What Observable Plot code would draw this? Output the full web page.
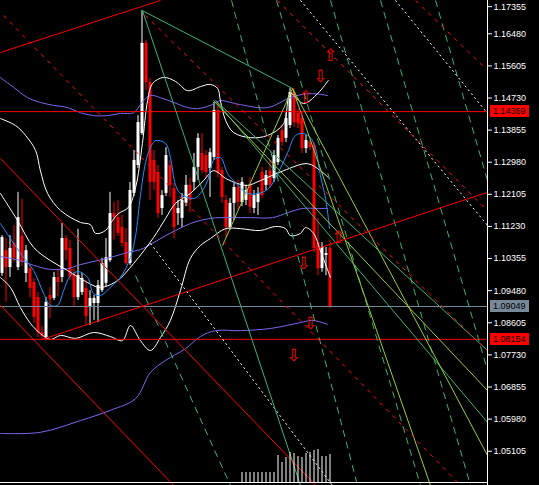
<!DOCTYPE html>
<html><head><meta charset="utf-8">
<script src="https://cdn.jsdelivr.net/npm/d3@7"></script>
<script src="https://cdn.jsdelivr.net/npm/@observablehq/plot@0.6"></script>
<style>
html,body{margin:0;padding:0;background:#000;}
#chart{position:relative;width:539px;height:485px;overflow:hidden;background:#000;}
#chart svg{position:absolute;left:0;top:0;}
</style></head><body><div id="chart"></div>
<script>
// ---- candle data (index = bar number) ----
const open = [1.0995,1.1057,1.1011,1.1077,1.1011,1.1096,1.0995,1.1008,1.0970,1.0929,
1.0834,1.0820,1.0935,1.0927,1.0984,1.0984,1.1090,1.1063,1.0995,1.0929,
1.0943,1.0954,1.0902,1.0913,1.0913,1.0948,1.0968,1.1030,1.1158,1.1147,
1.1120,1.1079,1.1022,1.1213,1.1289,1.1376,1.1622,1.1515,1.1303,1.1270,
1.1172,1.1213,1.1289,1.1226,1.1158,1.1145,1.1186,1.1235,1.1243,1.1284,
1.1322,1.1316,1.1281,1.1311,1.1439,1.1275,1.1194,1.1120,1.1186,1.1229,
1.1188,1.1194,1.1235,1.1172,1.1188,1.1270,1.1235,1.1275,1.1254,1.1297,
1.1384,1.1363,1.1398,1.1488,1.1431,1.1417,1.1335,1.1352,1.1344,1.1079,
1.1008,1.1044,1.1063];
const high = [1.1098,1.1090,1.1098,1.1126,1.1216,1.1197,1.1071,1.1017,1.0981,1.0943,
1.0850,1.0929,1.0957,1.0998,1.1006,1.1131,1.1098,1.1085,1.1008,1.1115,
1.0995,1.0976,1.0948,1.0935,1.0976,1.1036,1.1090,1.1216,1.1188,1.1194,
1.1153,1.1117,1.1243,1.1330,1.1425,1.1711,1.1630,1.1526,1.1330,1.1289,
1.1221,1.1338,1.1303,1.1240,1.1194,1.1213,1.1262,1.1254,1.1322,1.1376,
1.1376,1.1330,1.1335,1.1461,1.1461,1.1284,1.1207,1.1199,1.1240,1.1248,
1.1256,1.1235,1.1256,1.1221,1.1229,1.1284,1.1275,1.1303,1.1330,1.1371,
1.1398,1.1433,1.1499,1.1499,1.1444,1.1425,1.1371,1.1357,1.1352,1.1145,
1.1079,1.1066,1.1085];
const low = [1.0987,1.0916,1.0984,1.1025,1.1003,1.1014,1.0970,1.0929,1.0859,1.0820,
1.0815,1.0815,1.0872,1.0921,1.0932,1.0970,1.1030,1.0976,1.0902,1.0921,
1.0935,1.0853,1.0853,1.0867,1.0861,1.0943,1.0959,1.1025,1.1085,1.1096,
1.1066,1.1017,1.1017,1.1205,1.1281,1.1371,1.1493,1.1194,1.1221,1.1145,
1.1153,1.1205,1.1202,1.1090,1.1126,1.1120,1.1177,1.1161,1.1221,1.1248,
1.1267,1.1254,1.1202,1.1303,1.1256,1.1186,1.1093,1.1112,1.1139,1.1167,
1.1177,1.1180,1.1158,1.1158,1.1153,1.1199,1.1221,1.1226,1.1243,1.1289,
1.1341,1.1352,1.1390,1.1393,1.1390,1.1322,1.1322,1.1330,1.1052,1.0989,
1.0998,1.0989,1.0899];
const close = [1.1093,1.1011,1.1063,1.1036,1.1147,1.1025,1.1057,1.0954,1.0875,1.0834,
1.0823,1.0916,1.0924,1.0984,1.0970,1.1090,1.1057,1.0984,1.0929,1.0989,
1.0981,1.0878,1.0927,1.0927,1.0962,1.1022,1.1038,1.1158,1.1147,1.1104,
1.1077,1.1022,1.1221,1.1303,1.1406,1.1622,1.1515,1.1243,1.1243,1.1158,
1.1207,1.1316,1.1235,1.1120,1.1172,1.1194,1.1235,1.1194,1.1284,1.1363,
1.1275,1.1270,1.1324,1.1439,1.1267,1.1202,1.1120,1.1186,1.1229,1.1188,
1.1243,1.1221,1.1175,1.1207,1.1213,1.1207,1.1262,1.1235,1.1316,1.1363,
1.1352,1.1417,1.1488,1.1406,1.1403,1.1335,1.1357,1.1338,1.1063,1.1008,
1.1066,1.1049,1.09049];

// tick volume of the last bars (first bar index, values)
const volStart = 60;
const volume = [10,10,10,10,10,10,10,10,10,27,20,25,30,29,26,25,29,30,32,33,26,26,28];

// ---- indicator lines: [bar index, price] ----
const bbUpper = [[-0.4,1.1417],[3.4,1.1398],[5.9,1.1371],[8.4,1.1330],[9.6,1.1275],[11.4,1.1213],[14.6,1.1167],[19.6,1.1134],[22.1,1.1128],[23.4,1.1104],[25.9,1.1112],[27.6,1.1139],[29.1,1.1158],[31.6,1.1175],[33.4,1.1229],[35.1,1.1349],[36.4,1.1466],[37.6,1.1512],[40.4,1.1529],[43.4,1.1518],[46.4,1.1493],[49.6,1.1504],[52.1,1.1510],[53.9,1.1499],[54.6,1.1466],[55.9,1.1412],[57.9,1.1379],[62.1,1.1365],[66.4,1.1371],[70.4,1.1403],[72.1,1.1485],[75.4,1.1458],[78.9,1.1485],[81.6,1.1521]];
const bbMiddle = [[-0.4,1.1213],[3.9,1.1139],[7.9,1.1066],[12.1,1.1030],[16.4,1.1003],[20.4,1.0976],[24.6,1.0957],[28.9,1.0976],[32.9,1.1022],[37.9,1.1093],[40.9,1.1145],[43.4,1.1186],[47.1,1.1213],[50.4,1.1248],[52.9,1.1275],[55.9,1.1254],[58.9,1.1240],[61.4,1.1235],[64.6,1.1248],[70.4,1.1275],[76.4,1.1294],[79.6,1.1275],[81.6,1.1256]];
const bbLower = [[-0.4,1.0984],[2.1,1.0957],[4.6,1.0902],[7.1,1.0859],[9.6,1.0831],[12.1,1.0815],[14.6,1.0826],[18.4,1.0818],[22.9,1.0834],[27.1,1.0823],[30.1,1.0812],[32.1,1.0853],[34.6,1.0812],[37.1,1.0785],[39.6,1.0820],[42.1,1.0867],[44.6,1.0948],[47.1,1.1036],[49.6,1.1071],[52.1,1.1090],[55.9,1.1117],[59.6,1.1117],[64.6,1.1112],[68.4,1.1123],[70.9,1.1117],[72.1,1.1098],[74.6,1.1104],[75.9,1.1120],[77.9,1.1104],[79.6,1.1057],[82.1,1.0984]];
const maFast = [[-0.4,1.1131],[2.9,1.1077],[5.4,1.1038],[7.9,1.1003],[10.4,1.0940],[12.1,1.0908],[13.9,1.0908],[15.4,1.0948],[17.1,1.0989],[19.1,1.1000],[21.4,1.0984],[22.9,1.0940],[24.6,1.0935],[27.1,1.0957],[29.6,1.0984],[32.1,1.1038],[33.4,1.1098],[34.6,1.1207],[35.9,1.1297],[37.1,1.1338],[38.4,1.1357],[40.9,1.1349],[42.1,1.1311],[43.4,1.1235],[44.6,1.1213],[47.9,1.1199],[49.6,1.1213],[51.4,1.1248],[52.9,1.1303],[54.6,1.1311],[56.4,1.1267],[57.9,1.1248],[61.4,1.1213],[64.1,1.1213],[66.6,1.1226],[69.1,1.1270],[71.4,1.1324],[73.4,1.1371],[75.4,1.1376],[77.1,1.1365],[78.4,1.1335],[79.6,1.1262],[80.9,1.1199],[81.9,1.1117]];
const envUpper = [[-0.4,1.1529],[2.9,1.1502],[6.4,1.1474],[9.6,1.1461],[12.9,1.1453],[16.4,1.1447],[19.6,1.1433],[22.9,1.1425],[26.4,1.1425],[29.6,1.1431],[32.9,1.1433],[35.4,1.1466],[37.1,1.1480],[39.6,1.1474],[42.9,1.1461],[46.4,1.1447],[48.9,1.1444],[52.1,1.1453],[54.6,1.1466],[57.1,1.1461],[59.6,1.1455],[66.4,1.1447],[72.1,1.1474],[76.4,1.1485],[81.4,1.1480]];
const envMiddle = [[-0.4,1.1041],[4.6,1.1030],[7.9,1.1017],[12.1,1.1006],[16.4,1.1008],[19.6,1.1019],[23.9,1.1030],[27.9,1.1041],[31.4,1.1052],[34.6,1.1060],[37.6,1.1077],[40.9,1.1098],[43.4,1.1112],[47.1,1.1131],[52.1,1.1145],[57.1,1.1147],[62.1,1.1147],[67.6,1.1147],[71.6,1.1161],[75.1,1.1172],[79.1,1.1172],[81.4,1.1172]];
const envLower = [[-0.4,1.0559],[9.6,1.0562],[19.6,1.0594],[27.1,1.0622],[33.4,1.0654],[37.1,1.0725],[40.9,1.0758],[45.9,1.0790],[49.6,1.0823],[53.4,1.0839],[59.6,1.0839],[67.1,1.0845],[74.6,1.0861],[77.6,1.0867],[81.4,1.0856]];

// ---- horizontal levels ----
const resistance = 1.14359, support = 1.08154, bid = 1.09049;

// ---- drawn objects: [bar1, price1, bar2, price2] ----
const redSolid = [[-0.375,1.1597,39.625,1.1739],[10,1.0815,121.375,1.1216],[-0.375,1.1308,82.125,1.0376],[-0.375,1.0908,44.625,1.0398]];
const redDashed = [[0.375,1.1698,115.375,1.0409],[35.875,1.1698,121.375,1.0784],[68.875,1.1739,121.375,1.1166],[103.375,1.1739,121.375,1.1548]];
const greenSolid = [[35.125,1.1711,74.625,1.0417],[35.125,1.1711,72.625,1.1499],[53.375,1.1466,121.375,1.0589],[53.375,1.1466,121.375,1.0785]];
const yellowGreen = [[55.125,1.1071,72.625,1.1499],[52.875,1.1466,121.375,1.0676],[72.625,1.1499,121.375,1.0499],[72.625,1.1499,107.125,1.0417]];
const greenDashed = [[57.375,1.1739,88.875,1.0417],[68.625,1.1739,104.625,1.0417],[82.125,1.1739,117.125,1.0417],[94.625,1.1739,121.375,1.0731],[108.375,1.1739,121.375,1.1248],[33.375,1.0989,57.125,1.0417]];
const whiteDotted = [[37.125,1.1077,82.625,1.0417],[74.625,1.1739,121.375,1.1126],[98.375,1.1739,121.375,1.1431]];

// ---- signal arrows: [bar, price] ----
const arrowsUp = [[82.1,1.1589],[75.9,1.1474],[84.1,1.1093]];
const arrowsDown = [[79.6,1.1531],[74.6,1.1417],[75.4,1.1022],[77.1,1.0859],[72.9,1.0771]];

// price axis ticks
const priceTicks = [1.17355,1.16480,1.15605,1.14730,1.13855,1.12980,1.12105,1.11230,1.10355,1.09480,1.08605,1.07730,1.06855,1.05980,1.05105];

const candles = open.map((o,i)=>({i,o,h:high[i],l:low[i],c:close[i],up:close[i]>=o}));
const toLinks = arr => arr.map(([x1,y1,x2,y2])=>({x1,y1,x2,y2}));
const toPts = arr => arr.map(([x,y])=>({x,y}));
const xDomain = [-0.375, 121.375];
const yDomain = [1.04171, 1.17387];
const W = 539, H = 485;
const FONT = "'Liberation Sans', Arial, sans-serif";

const linkOpts = (stroke, dash) => ({x1:"x1",y1:"y1",x2:"x2",y2:"y2",stroke,strokeWidth:1,strokeDasharray:dash,clip:true});
const lineOpts = (stroke) => ({x:"x",y:"y",stroke,strokeWidth:1,curve:"catmull-rom",clip:true});
const axisOpts = {anchor:"right", tickSize:4, tickPadding:2, tickFormat:d=>d.toFixed(5)};
const arrowOpts = {x:"x", y:"y", fill:"#ff0000", fontSize:17, fontFamily:"DejaVu Sans"};

const plot = Plot.plot({
  width: W, height: H,
  marginLeft: 0, marginRight: 52, marginTop: 0, marginBottom: 0,
  style: {background:"#000", color:"#fff", fontFamily:FONT, fontSize:"9px", overflow:"visible"},
  x: {domain: xDomain, axis: null},
  y: {domain: yDomain, axis: null},
  marks: [
    Plot.ruleX(candles, {x:"i", y1:"l", y2:"h", stroke:d=>d.up?"#fff":"#ff0000", strokeWidth:1}),
    Plot.ruleX(candles, {x:"i", y1:"o", y2:"c", stroke:d=>d.up?"#fff":"#ff0000", strokeWidth:3}),
    Plot.line(toPts(envUpper), lineOpts("#7b68ee")),
    Plot.line(toPts(envMiddle), lineOpts("#7b68ee")),
    Plot.line(toPts(envLower), lineOpts("#7b68ee")),
    Plot.line(toPts(bbUpper), lineOpts("#ffffff")),
    Plot.line(toPts(bbMiddle), lineOpts("#ffffff")),
    Plot.line(toPts(bbLower), lineOpts("#ffffff")),
    Plot.line(toPts(maFast), lineOpts("#1e90ff")),
    Plot.ruleY([resistance, support], {stroke:"#ff0000"}),
    Plot.ruleY([bid], {stroke:"#778899"}),
    Plot.link(toLinks(greenDashed), linkOpts("#3cb371","7,5")),
    Plot.link(toLinks(whiteDotted), linkOpts("#ffffff","2,3")),
    Plot.link(toLinks(greenSolid), linkOpts("#3cb371")),
    Plot.link(toLinks(yellowGreen), linkOpts("#9acd32")),
    Plot.link(toLinks(redDashed), linkOpts("#ff0000","4,5")),
    Plot.link(toLinks(redSolid), linkOpts("#ff0000")),
    Plot.text(toPts(arrowsUp), {...arrowOpts, text:()=>"\u21e7"}),
    Plot.text(toPts(arrowsDown), {...arrowOpts, text:()=>"\u21e9"}),
    Plot.ruleX([xDomain[1]], {stroke:"#fff"}),
    Plot.axisY(priceTicks.slice(1), axisOpts),
    Plot.axisY(priceTicks.slice(0,1), {...axisOpts, dy:5})
  ]
});

const volPlot = Plot.plot({
  width: W, height: H,
  marginLeft: 0, marginRight: 52, marginTop: 382, marginBottom: 3,
  style: {background:"transparent"},
  x: {domain: xDomain, axis: null},
  y: {domain: [0, 100], axis: null},
  marks: [
    Plot.ruleX(volume, {x:(d,k)=>volStart+k, y1:0, y2:d=>d, stroke:"#fff"}),
    Plot.ruleY([0], {stroke:"#fff"})
  ]
});

const el = document.getElementById("chart");
el.appendChild(plot);
el.appendChild(volPlot);

// price labels on the axis, placed through the plot's y scale
const sy = plot.scale("y");
const svg = d3.select(plot);
[[resistance,"#ff0000"],[bid,"#778899"],[support,"#ff0000"]].forEach(([p,col])=>{
  const yy = Math.round(sy.apply(p));
  svg.append("rect").attr("x",490).attr("y",yy-6).attr("width",39).attr("height",12).attr("fill",col);
  svg.append("text").attr("x",493).attr("y",yy).attr("dy","0.34em").attr("text-anchor","start")
    .attr("fill","#000").attr("font-size","9px").attr("font-family",FONT).text(p.toFixed(5));
});
</script></body></html>
